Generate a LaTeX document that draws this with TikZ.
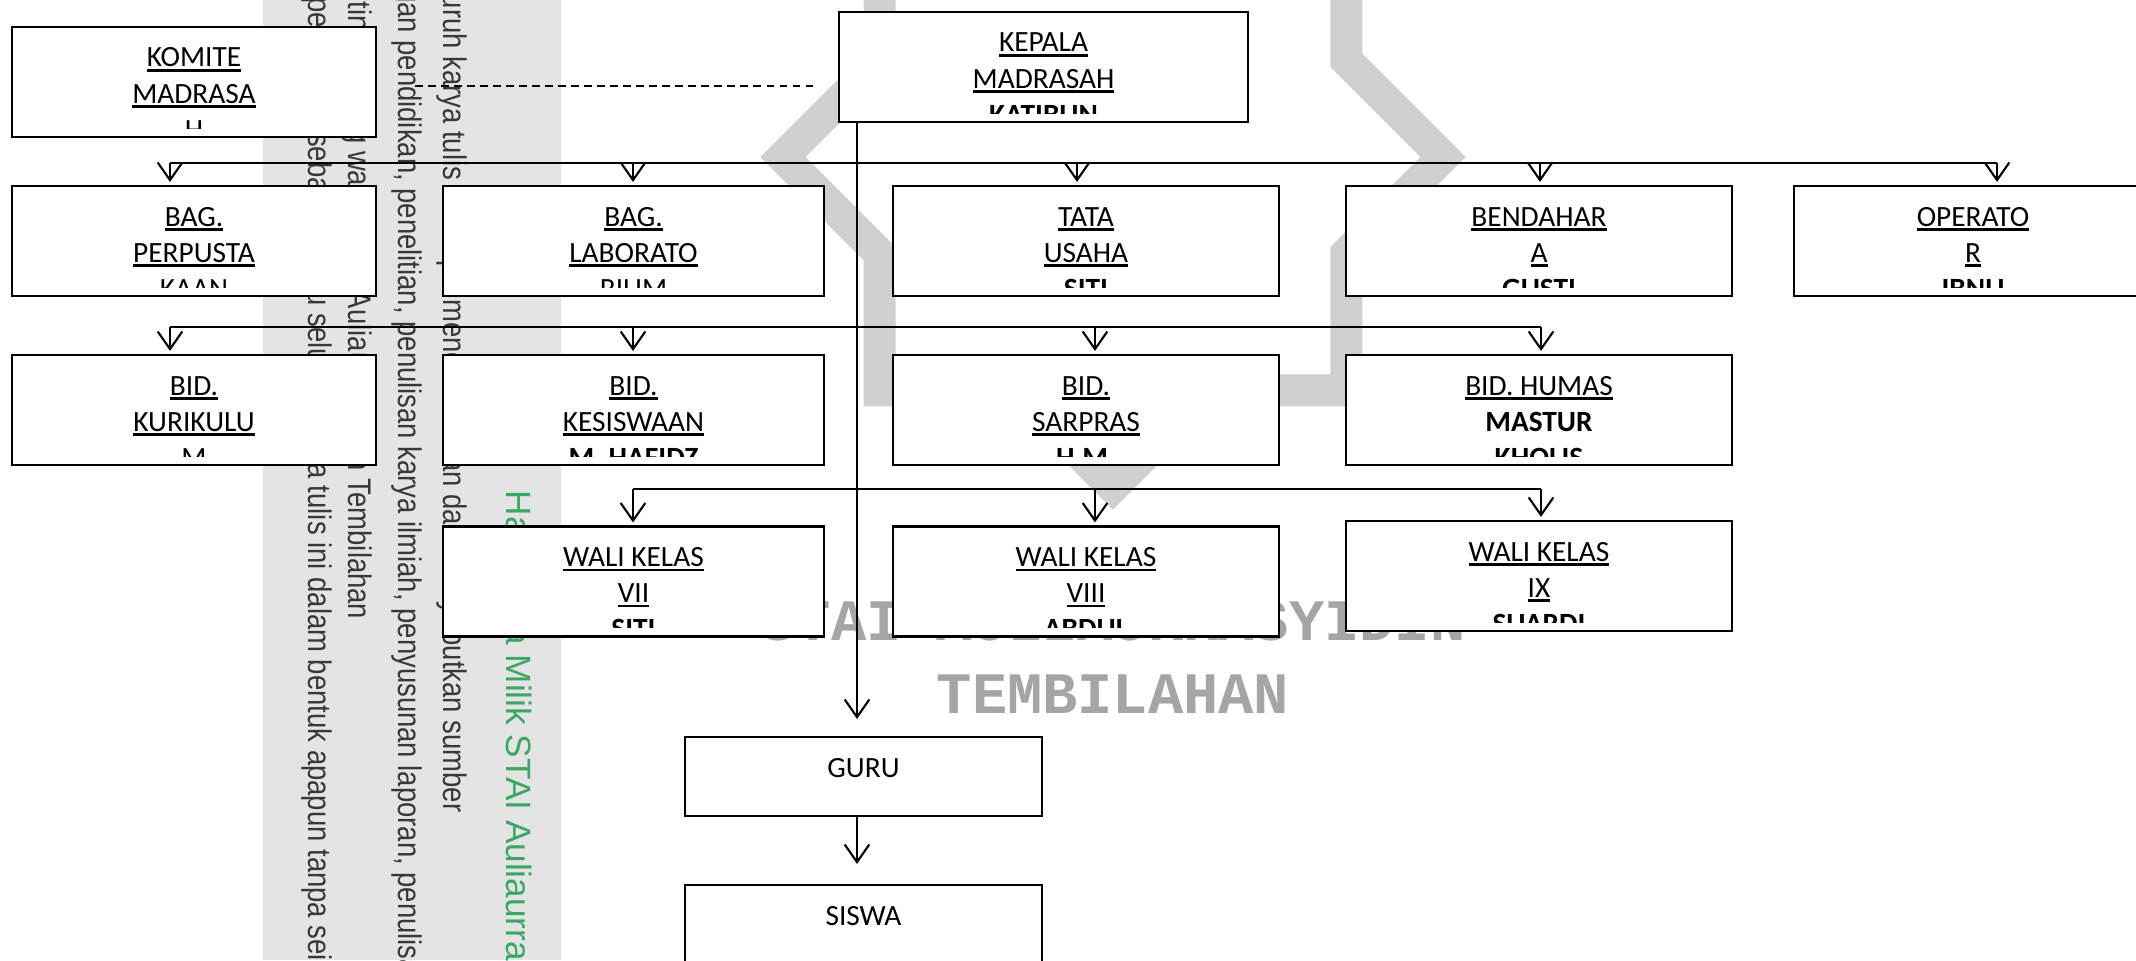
\documentclass[tikz,border=0pt]{standalone}
\usepackage{fontspec}
\setmainfont{Carlito}
\newfontfamily\wmfont{Liberation Sans}
\newfontfamily\capfont{Liberation Mono}
\usetikzlibrary{arrows.meta,calc}
\definecolor{hijau}{RGB}{58,168,98}
\definecolor{abu}{RGB}{228,228,228}
\definecolor{logoabu}{RGB}{208,208,208}
\definecolor{capabu}{RGB}{165,165,165}
\newcommand\garis[1]{\setbox0\hbox{#1}\rlap{\rule[-1.4pt]{\wd0}{0.8pt}}\box0}

\begin{document}
\begin{tikzpicture}[x=0.01cm, y=-0.01cm, font=\fontsize{8.35pt}{10.24pt}\selectfont,
  kotak/.style={draw, fill=white, line width=0.6pt, inner sep=0pt, minimum height=1.1cm},
  isi/.style={path picture={
    \clip ([yshift=0.09cm]path picture bounding box.south west) rectangle (path picture bounding box.north east);
    \node[anchor=base, inner sep=0pt] at ([yshift=-0.4cm]path picture bounding box.north) {\begin{tabular}[t]{@{}c@{}}#1\end{tabular}};}},
  panah/.style={-{Straight Barb[length=5pt,width=7pt]}, line width=0.6pt, shorten >=0.03cm},
  wm/.style={rotate=-90, xscale=0.84, inner sep=0pt, text=black!78, font=\wmfont\fontsize{9.3pt}{11pt}\selectfont}]

\useasboundingbox (0,0) rectangle (2136,960);
\fill[white] (0,0) rectangle (2136,960);
\coordinate (pusat) at (1113,157);
\draw[logoabu, line width=0.32cm, line join=miter] ($(pusat)+(0:330)$) \foreach \k in {0,...,6} { -- ($(pusat)+(\k*45+22.5:252.6)$) -- ($(pusat)+(\k*45+45:330)$)} -- ($(pusat)+(337.5:252.6)$) -- cycle;

\fill[abu] (263,0) rectangle (561,960);
\node[wm, anchor=base east] (wm1) at (443,813) {1. Dilarang mengutip sebagian atau seluruh karya tulis ini tanpa mencantumkan dan menyebutkan sumber};
\node[wm, anchor=base west] (wm2) at (398,40) {\llap{a. Pengutipan hanya untuk kepentingan }pendidikan, penelitian, penulisan karya ilmiah, penyusunan laporan, penulisan kritik atau tinjauan suatu masalah.};
\node[wm, anchor=base east] (wm3) at (348,620) {b. Pengutipan tidak merugikan kepentingan yang wajar STAI Auliaurrasyidin Tembilahan};
\node[wm, anchor=base west] (wm4) at (308,313) {\llap{2. Dilarang mengumumkan dan memperbanyak sebagian atau }seluruh karya tulis ini dalam bentuk apapun tanpa seizin STAI Auliaurrasyidin Tembilahan};
\node[wm, xscale=1.19, text=hijau, font=\wmfont\fontsize{10pt}{12pt}\selectfont, anchor=base west] (wm5) at (506,490) {Hak Cipta Milik STAI Auliaurrasyidin Tembilahan};

\node[anchor=base, inner sep=0pt, text=capabu, font=\capfont\bfseries\fontsize{16.7pt}{18pt}\selectfont] (stai) at (1113,640) {STAI AULIAURRASYIDIN};
\node[anchor=base, inner sep=0pt, text=capabu, font=\capfont\bfseries\fontsize{16.7pt}{18pt}\selectfont] (tembilahan) at (1113,713) {TEMBILAHAN};

\node[kotak, minimum width=3.64cm, isi={\garis{KOMITE}\\\garis{MADRASA}\\\garis{H}}] (komite) at (194,82) {};
\node[kotak, minimum width=4.09cm, isi={\garis{KEPALA}\\\garis{MADRASAH}\\\textbf{KATIBUN}}] (kepala) at (1043.5,67) {};
\node[kotak, minimum width=3.64cm, isi={\garis{BAG.}\\\garis{PERPUSTA}\\\garis{KAAN}}] (perpus) at (194,241) {};
\node[kotak, minimum width=3.81cm, isi={\garis{BAG.}\\\garis{LABORATO}\\\garis{RIUM}}] (lab) at (633.5,241) {};
\node[kotak, minimum width=3.86cm, isi={\garis{TATA}\\\garis{USAHA}\\\textbf{SITI}}] (tu) at (1086,241) {};
\node[kotak, minimum width=3.86cm, isi={\garis{BENDAHAR}\\\garis{A}\\\textbf{GUSTI}}] (bendahara) at (1539,241) {};
\node[kotak, minimum width=3.58cm, isi={\garis{OPERATO}\\\garis{R}\\\textbf{IBNU}}] (operator) at (1973,241) {};
\node[kotak, minimum width=3.64cm, isi={\garis{BID.}\\\garis{KURIKULU}\\\garis{M}}] (kurikulum) at (194,410) {};
\node[kotak, minimum width=3.81cm, isi={\garis{BID.}\\\garis{KESISWAAN}\\\textbf{M. HAFIDZ}}] (kesiswaan) at (633.5,410) {};
\node[kotak, minimum width=3.86cm, isi={\garis{BID.}\\\garis{SARPRAS}\\\textbf{H.M.}}] (sarpras) at (1086,410) {};
\node[kotak, minimum width=3.86cm, isi={\garis{BID. HUMAS}\\\textbf{MASTUR}\\\textbf{KHOLIS}}] (humas) at (1539,410) {};
\node[kotak, minimum width=3.81cm, isi={\garis{WALI KELAS}\\\garis{VII}\\\textbf{SITI}}] (wali7) at (633.5,581.5) {};
\node[kotak, minimum width=3.86cm, isi={\garis{WALI KELAS}\\\garis{VIII}\\\textbf{ABDUL}}] (wali8) at (1086,581.5) {};
\node[kotak, minimum width=3.86cm, isi={\garis{WALI KELAS}\\\garis{IX}\\\textbf{SUARDI}}] (wali9) at (1539,576) {};
\node[kotak, minimum width=3.57cm, minimum height=0.79cm, isi={GURU}] (guru) at (863.5,776.5) {};
\node[kotak, minimum width=3.57cm, isi={SISWA}] (siswa) at (863.5,940) {};

\coordinate (tiang) at (857,0);
\coordinate (komitekanan) at ([shift={(0.38cm,-0.04cm)}]komite.east);
\draw[dash pattern=on 2.1pt off 1.6pt, line width=0.6pt, shorten >=0.2cm] (komitekanan) -- (komitekanan -| kepala.west);
\draw[line width=0.6pt] (170,163) -- (1997,163);
\draw[line width=0.6pt] (170,327) -- (1541,327);
\draw[line width=0.6pt] (633,489) -- (1541,489);
\foreach \x/\t in {170/perpus, 633/lab, 1077/tu, 1540/bendahara, 1997/operator}
  \draw[panah] (\x,163) -- (\x,0 |- \t.north);
\foreach \x/\t in {170/kurikulum, 633/kesiswaan, 1095/sarpras, 1541/humas}
  \draw[panah] (\x,327) -- (\x,0 |- \t.north);
\foreach \x/\t in {633/wali7, 1095/wali8, 1541/wali9}
  \draw[panah] (\x,489) -- (\x,0 |- \t.north);
\draw[panah, shorten >=0.17cm] (kepala.south -| tiang) -- (guru.north -| tiang);
\draw[panah, shorten >=0.2cm] (guru.south -| tiang) -- (siswa.north -| tiang);

\end{tikzpicture}
\end{document}
